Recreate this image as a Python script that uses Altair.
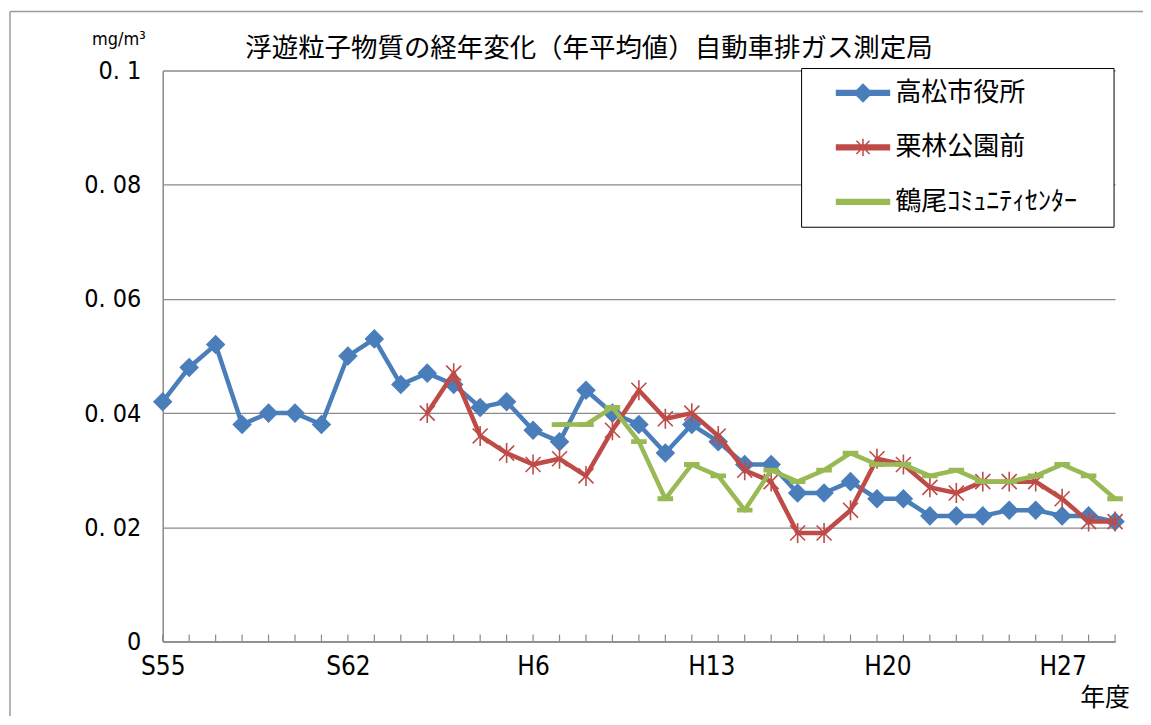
import altair as alt
import pandas as pd

# ---- data ----
years = ["S55", "S56", "S57", "S58", "S59", "S60", "S61", "S62", "S63",
         "H1", "H2", "H3", "H4", "H5", "H6", "H7", "H8", "H9", "H10",
         "H11", "H12", "H13", "H14", "H15", "H16", "H17", "H18", "H19", "H20",
         "H21", "H22", "H23", "H24", "H25", "H26", "H27", "H28"]
label_years = ["S55", "S62", "H6", "H13", "H20", "H27"]

series_names = ["高松市役所", "栗林公園前", "鶴尾ｺﾐｭﾆﾃｨｾﾝﾀｰ"]

takamatsu = [0.042, 0.048, 0.052, 0.038, 0.040, 0.040, 0.038, 0.050, 0.053,
             0.045, 0.047, 0.045, 0.041, 0.042, 0.037, 0.035, 0.044, 0.040, 0.038,
             0.033, 0.038, 0.035, 0.031, 0.031, 0.026, 0.026, 0.028, 0.025, 0.025,
             0.022, 0.022, 0.022, 0.023, 0.023, 0.022, 0.022, 0.021]
ritsurin = [None] * 10 + [0.040, 0.047, 0.036, 0.033, 0.031, 0.032, 0.029, 0.037, 0.044,
                          0.039, 0.040, 0.036, 0.030, 0.028, 0.019, 0.019, 0.023, 0.032, 0.031,
                          0.027, 0.026, 0.028, 0.028, 0.028, 0.025, 0.021, 0.021]
tsuruo = [None] * 15 + [0.038, 0.038, 0.041, 0.035, 0.025, 0.031, 0.029, 0.023, 0.030,
                        0.028, 0.030, 0.033, 0.031, 0.031, 0.029, 0.030, 0.028, 0.028,
                        0.029, 0.031, 0.029, 0.025]

title_text = "浮遊粒子物質の経年変化（年平均値）自動車排ガス測定局"
unit_text = "mg/m³"
xtitle_text = "年度"

colors = ["#4A7EBB", "#BE4B48", "#98B954"]

# ---- build table ----
rows = []
for name, vals in zip(series_names, [takamatsu, ritsurin, tsuruo]):
    for y, v in zip(years, vals):
        if v is not None:
            rows.append({"year": y, "series": name, "value": v})
df = pd.DataFrame(rows)
years_df = pd.DataFrame({"year": years})
legend_df = pd.DataFrame({"series": series_names})

W, H = 954, 572
GRAY = "#8A8A8A"
NUMFONT = "Liberation Sans Narrow, DejaVu Sans Condensed, Noto Sans, sans-serif"
JPFONT = "Noto Sans CJK JP"

x_enc = alt.X(
    "year:O",
    sort=years,
    scale=alt.Scale(type="point", padding=0, domain=years),
    axis=alt.Axis(
        values=label_years, title=None, ticks=False, grid=False,
        domainColor=GRAY, domainWidth=1.5, labelAngle=0,
        labelFont=NUMFONT, labelFontSize=26, labelColor="black",
        labelPadding=12,
        labelOffset={"condition": [
            {"test": "datum.value == 'H13'", "value": -7},
            {"test": "datum.value == 'H20'", "value": -16},
            {"test": "datum.value == 'H27'", "value": -26}], "value": 0},
    ),
)
y_enc = alt.Y(
    "value:Q",
    scale=alt.Scale(domain=[0, 0.1], nice=False, zero=True),
    axis=alt.Axis(
        values=[0, 0.02, 0.04, 0.06, 0.08, 0.1], title=None, ticks=False,
        grid=True, gridColor=GRAY, gridWidth=1.3,
        domainColor=GRAY, domainWidth=1.5,
        labelFont=NUMFONT, labelFontSize=25, labelColor="black",
        labelPadding=22,
        labelExpr="replace(format(datum.value, '.2~f'), '.', '. ')",
    ),
)

base = alt.Chart(df)
one = pd.DataFrame({"k": [1]})

# decorative outer frame
frame_left = alt.Chart(one).mark_rule(color="#9A9A9A", strokeWidth=1.5).encode(
    x=alt.value(-153), y=alt.value(-59), y2=alt.value(670))
frame_top = alt.Chart(one).mark_rule(color="#9A9A9A", strokeWidth=1.5).encode(
    x=alt.value(-153), x2=alt.value(1100), y=alt.value(-59))

# x tick marks pointing up into the plot
ticks = alt.Chart(years_df).mark_rule(color=GRAY, strokeWidth=1.2).encode(
    x=x_enc, y=alt.value(H), y2=alt.value(H - 7))

diamond = "M-1,0L0,-1L1,0L0,1Z"
asterisk = "M-0.75,-0.75L0.75,0.75M-0.75,0.75L0.75,-0.75M0,-1L0,1"
dash = "M-0.7,-0.16H0.7V0.16H-0.7Z"
shapes = [diamond, asterisk, dash]
sizes = [300, 400, 400]

layers = []
for name, col, shp, sz in zip(series_names, colors, shapes, sizes):
    sub = base.transform_filter(alt.datum.series == name)
    layers.append(sub.mark_line(color=col, strokeWidth=4.5, strokeJoin="round",
                                strokeCap="round").encode(x=x_enc, y=y_enc))
    layers.append(sub.mark_point(shape=shp, size=sz, filled=True, color=col, stroke=col,
                                 strokeWidth=1.6, opacity=1).encode(x=x_enc, y=y_enc))

# legend box
legend_box = alt.Chart(one).mark_rect(fill="white", stroke="black", strokeWidth=1).encode(
    x=alt.value(640), x2=alt.value(953), y=alt.value(-2), y2=alt.value(157))

bar = "M-1,-0.09H1V0.09H-1Z"
legend_shapes = [
    bar + "M-0.33,0L0,-0.33L0.33,0L0,0.33Z",
    bar + "M-0.25,-0.25L0.25,0.25M-0.25,0.25L0.25,-0.25M0,-0.33L0,0.33",
    bar,
]
leg = alt.Legend(orient="none", legendX=640, legendY=-5, title=None, padding=0,
                 symbolOffset=34, symbolSize=2809, symbolStrokeWidth=1.5,
                 symbolOpacity=1, labelFont=JPFONT, labelFontSize=26,
                 labelColor="black", labelOffset=5, rowPadding=13.5, labelLimit=400)
legend_layer = alt.Chart(legend_df).mark_point(opacity=0, filled=True).encode(
    shape=alt.Shape("series:N", scale=alt.Scale(domain=series_names, range=legend_shapes), legend=leg),
    fill=alt.Fill("series:N", scale=alt.Scale(domain=series_names, range=colors), legend=leg),
    stroke=alt.Stroke("series:N", scale=alt.Scale(domain=series_names, range=colors), legend=leg),
)

title_layer = alt.Chart(pd.DataFrame({"t": [title_text]})).mark_text(
    font=JPFONT, fontSize=26.5, color="black", align="center", baseline="middle").encode(
    text="t:N", x=alt.value(427), y=alt.value(-22))
unit_layer = alt.Chart(pd.DataFrame({"t": [unit_text]})).mark_text(
    font=NUMFONT, fontSize=18, color="black", align="center", baseline="middle").encode(
    text="t:N", x=alt.value(-44), y=alt.value(-31))
xtitle_layer = alt.Chart(pd.DataFrame({"t": [xtitle_text]})).mark_text(
    font=JPFONT, fontSize=25, color="black", align="center", baseline="middle").encode(
    text="t:N", x=alt.value(944), y=alt.value(629))

chart = alt.layer(
    frame_left, frame_top, ticks, *layers, legend_box,
    title_layer, unit_layer, xtitle_layer, legend_layer,
).properties(
    width=W, height=H,
    autosize=alt.AutoSizeParams(type="none"),
    padding={"left": 155, "top": 62, "right": 28, "bottom": 74},
    background="white",
).configure_view(stroke="transparent")

chart.save("out.html", embed_options={"renderer": "svg", "actions": False})
